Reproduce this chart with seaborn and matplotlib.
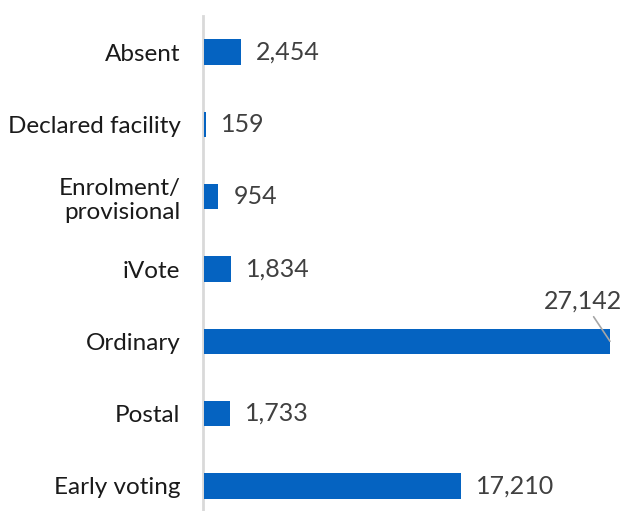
import matplotlib
matplotlib.use('Agg')
import matplotlib.pyplot as plt
import seaborn as sns
import pandas as pd

categories = ['Absent', 'Declared facility', 'Enrolment/\nprovisional', 'iVote',
              'Ordinary', 'Postal', 'Early voting']
votes = [2454, 159, 954, 1834, 27142, 1733, 17210]
labels = ['2,454', '159', '954', '1,834', '27,142', '1,733', '17,210']

sns.set_style('white')
plt.rcParams['font.family'] = ['Lato', 'DejaVu Sans']

data = pd.DataFrame({'Vote type': categories, 'Votes': votes})

fig = plt.figure(figsize=(6.25, 5.11), dpi=100)
# axes placed in pixel terms of the reference
left, right, top, bottom = 204, 620, 16, 522
ax = fig.add_axes([left / 625, 1 - bottom / 511, (right - left) / 625, (bottom - top) / 511])

sns.barplot(data=data, x='Votes', y='Vote type', orient='h', color='#0563C1',
            saturation=1, width=0.35, linewidth=0, ax=ax, zorder=3)

px_per_unit = (610 - 204) / 27142
ax.set_xlim(0, (right - left) / px_per_unit)
ax.set_ylim(6.5, -0.5)

for i, (v, lab) in enumerate(zip(votes, labels)):
    if lab == '27,142':
        ax.annotate(lab, xy=(v, i), xytext=(v - 27 / px_per_unit, i - 0.56),
                    ha='center', va='center', fontsize=18, color='#404040',
                    arrowprops=dict(arrowstyle='-', color='#a6a6a6', lw=1.2,
                                    shrinkA=1, shrinkB=0))
    else:
        ax.text(v + 15 / px_per_unit, i, lab, ha='left', va='center',
                fontsize=18, color='#404040')

ax.set_xlabel('')
ax.set_ylabel('')
ax.set_xticks([])
ax.tick_params(axis='y', length=0, pad=16, labelsize=17.5, labelcolor='#1a1a1a')
for s in ['top', 'right', 'bottom']:
    ax.spines[s].set_visible(False)
ax.spines['left'].set_color('#d9d9d9')
ax.spines['left'].set_linewidth(2)
ax.spines['left'].set_position(('outward', 1))

fig.savefig('out.png', dpi=100)
